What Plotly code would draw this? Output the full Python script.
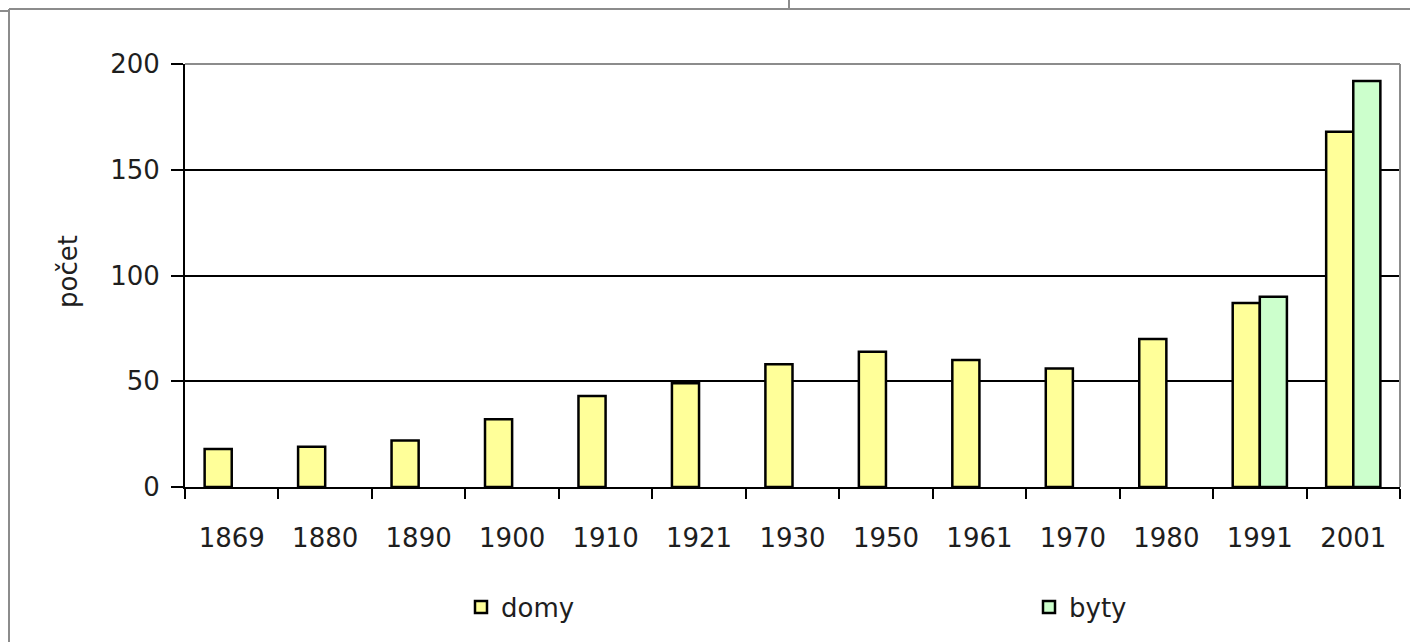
import plotly.graph_objects as go

years = ["1869", "1880", "1890", "1900", "1910", "1921", "1930", "1950", "1961", "1970", "1980", "1991", "2001"]
domy = [18, 19, 22, 32, 43, 49, 58, 64, 60, 56, 70, 87, 168]
byty = [None, None, None, None, None, None, None, None, None, None, None, 90, 192]

W, H = 1410, 642
L, R, T, B = 185, 10, 64, 155
PW, PH = W - L - R, H - T - B

def px(x):
    return (x - L) / PW

def py(y):
    return (H - B - y) / PH

FONT = "DejaVu Sans"
TXT = "#1e1e1e"
FS = 26

fig = go.Figure()
fig.add_trace(go.Bar(name="domy", x=years, y=domy, legend="legend",
                     marker=dict(color="#FFFF99", line=dict(color="black", width=2.5))))
fig.add_trace(go.Bar(name="byty", x=years, y=byty, legend="legend2",
                     marker=dict(color="#CCFFCC", line=dict(color="black", width=2.5))))

grey = "#8c8c8c"
shapes = [
    dict(type="line", xref="paper", yref="paper", x0=0, x1=1, y0=1, y1=1, line=dict(color=grey, width=2)),
    dict(type="line", xref="paper", yref="paper", x0=1, x1=1, y0=0, y1=1, line=dict(color=grey, width=2)),
    # outer frame fragments
    dict(type="line", xref="paper", yref="paper", x0=px(9), x1=px(W), y0=py(9), y1=py(9), line=dict(color=grey, width=2)),
    dict(type="line", xref="paper", yref="paper", x0=px(9), x1=px(9), y0=py(9), y1=py(H), line=dict(color=grey, width=2)),
    dict(type="line", xref="paper", yref="paper", x0=px(0), x1=px(9), y0=py(11), y1=py(11), line=dict(color=grey, width=2)),
    dict(type="line", xref="paper", yref="paper", x0=px(789), x1=px(789), y0=py(0), y1=py(9), line=dict(color=grey, width=2)),
]

leg_common = dict(orientation="h", xanchor="left", y=py(607), yanchor="middle",
                  font=dict(size=FS, color=TXT), itemclick=False, itemdoubleclick=False,
                  bgcolor="rgba(0,0,0,0)")

fig.update_layout(
    width=W, height=H,
    margin=dict(l=L, r=R, t=T, b=B, autoexpand=False),
    plot_bgcolor="white", paper_bgcolor="white",
    barmode="group", bargap=0.42, bargroupgap=0,
    font=dict(family=FONT, size=FS, color=TXT),
    showlegend=True,
    legend=dict(x=px(461), **leg_common),
    legend2=dict(x=px(1029), **leg_common),
    shapes=shapes,
    annotations=[dict(text="počet", xref="paper", yref="paper", x=px(68), y=py(272),
                      xanchor="center", yanchor="middle",
                      textangle=-90, showarrow=False, font=dict(size=FS, color=TXT))],
)
fig.update_xaxes(type="category", showline=True, linecolor="black", linewidth=2,
                 ticks="outside", tickson="boundaries", ticklen=10, tickwidth=2, tickcolor="black",
                 showgrid=False, ticklabelstandoff=27)
fig.update_yaxes(range=[0, 200], tickvals=[0, 50, 100, 150, 200], showline=True, linecolor="black",
                 linewidth=2, ticks="outside", ticklen=12, tickwidth=2, tickcolor="black",
                 showgrid=True, gridcolor="black", gridwidth=2, zeroline=False,
                 ticklabelstandoff=6, fixedrange=True)

fig.write_html("out.html", config={"displayModeBar": False},
               post_script="document.body.style.margin='0';document.body.style.overflow='hidden';")
